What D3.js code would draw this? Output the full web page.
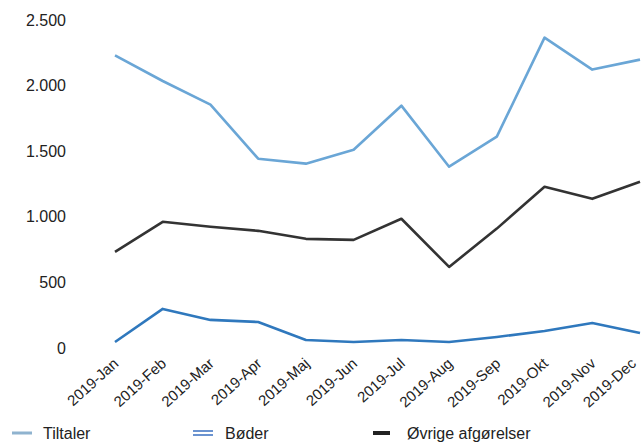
<!DOCTYPE html>
<html>
<head>
<meta charset="utf-8">
<script src="https://cdn.jsdelivr.net/npm/d3@7"></script>
<style>
  body { margin: 0; background: #fff; }
  text { font-family: "Liberation Sans", Arial, sans-serif; fill: #222; }
</style>
</head>
<body>
<div id="chart"></div>
<script>
var svgWidth = 641;
var svgHeight = 443;

// data
var months = ["2019-Jan", "2019-Feb", "2019-Mar", "2019-Apr", "2019-Maj", "2019-Jun",
  "2019-Jul", "2019-Aug", "2019-Sep", "2019-Okt", "2019-Nov", "2019-Dec"];
var tiltaler = [2230, 2035, 1855, 1443, 1405, 1511, 1847, 1382, 1611, 2366, 2122, 2198];
var boder = [46, 298, 214, 198, 61, 46, 61, 46, 84, 130, 191, 115];
var ovrige = [733, 962, 924, 893, 832, 824, 985, 618, 910, 1229, 1137, 1267];
var yTicks = [0, 500, 1000, 1500, 2000, 2500];

var seriesNames = ["Tiltaler", "Bøder", "Øvrige afgørelser"];
var seriesColors = ["#6aa6d6", "#2f78bd", "#333333"];
var seriesValues = [tiltaler, boder, ovrige];

var svg = d3.select("#chart")
  .append("svg")
  .attr("width", svgWidth)
  .attr("height", svgHeight);

var xScale = d3.scalePoint()
  .domain(months)
  .range([115, 640]);

var yScale = d3.scaleLinear()
  .domain([0, 2500])
  .range([348, 20]);

// y axis labels (no line)
var yAxis = svg.append("g")
  .attr("transform", "translate(66,0)")
  .call(d3.axisLeft(yScale).tickValues(yTicks).tickSize(0).tickPadding(0)
    .tickFormat(d => d3.format(",")(d).replace(",", ".")));
yAxis.select(".domain").remove();
yAxis.selectAll("text")
  .style("font-size", "16px")
  .attr("fill", "#1a1a1a");

// x axis labels rotated
var xAxis = svg.append("g")
  .attr("transform", "translate(-3,357)")
  .call(d3.axisBottom(xScale).tickSize(0).tickPadding(0));
xAxis.select(".domain").remove();
xAxis.selectAll("text")
  .style("font-size", "15px")
  .attr("fill", "#1a1a1a")
  .attr("text-anchor", "end")
  .attr("dy", "0.7em")
  .attr("transform", "rotate(-42)");
// last label sits on the right edge; nudge it in so it is not clipped
xAxis.selectAll(".tick")
  .filter(d => d === "2019-Dec")
  .attr("transform", "translate(" + (xScale("2019-Dec") - 7) + ",0)");

// lines
var line = d3.line()
  .x((d, i) => xScale(months[i]))
  .y(d => yScale(d));

seriesValues.forEach(function(vals, k) {
  svg.append("path")
    .datum(vals)
    .attr("fill", "none")
    .attr("stroke", seriesColors[k])
    .attr("stroke-width", 2.6)
    .attr("stroke-linejoin", "round")
    .attr("d", line);
});

// legend
var legendX = [12, 193, 373];
var legendTextX = [43, 225, 407];
var legend = svg.append("g");

legend.append("line")
  .attr("x1", legendX[0]).attr("x2", legendX[0] + 20)
  .attr("y1", 433).attr("y2", 433)
  .attr("stroke", "#8fb3cf").attr("stroke-width", 3);

legend.append("line")
  .attr("x1", legendX[1]).attr("x2", legendX[1] + 20)
  .attr("y1", 431).attr("y2", 431)
  .attr("stroke", "#3a6fc0").attr("stroke-width", 1.5);
legend.append("line")
  .attr("x1", legendX[1]).attr("x2", legendX[1] + 20)
  .attr("y1", 435).attr("y2", 435)
  .attr("stroke", "#3a6fc0").attr("stroke-width", 1.5);

legend.append("line")
  .attr("x1", legendX[2]).attr("x2", legendX[2] + 17)
  .attr("y1", 433).attr("y2", 433)
  .attr("stroke", "#222").attr("stroke-width", 4);

legend.selectAll("text.leg")
  .data(seriesNames)
  .enter()
  .append("text")
  .attr("class", "leg")
  .attr("x", (d, i) => legendTextX[i])
  .attr("y", 439)
  .style("font-size", "16px")
  .text(d => d);
</script>
</body>
</html>
